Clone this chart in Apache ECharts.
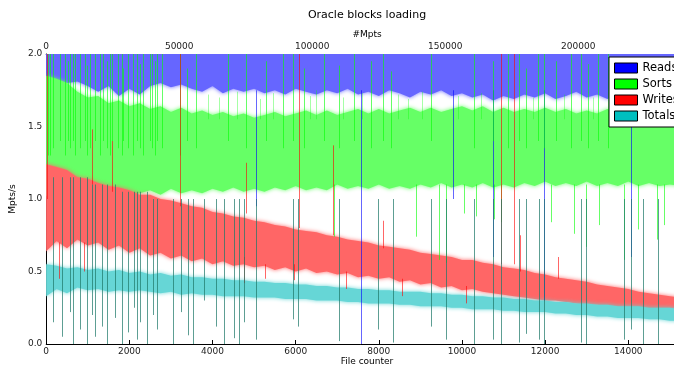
<!DOCTYPE html>
<html>
<head>
<meta charset="utf-8">
<title>Oracle blocks loading</title>
<script src="https://cdn.jsdelivr.net/npm/echarts@6.0.0/dist/echarts.min.js"></script>
<style>
  html, body { margin: 0; padding: 0; background: #fff; }
  #chart { width: 674px; height: 366px; }
</style>
</head>
<body>
<div id="chart"></div>
<script>
// file counter positions of the band envelopes
const fileX = [0, 250, 500, 750, 1000, 1250, 1500, 1750, 2000, 2250, 2500, 2750, 3000, 3250, 3500, 3750,
  4000, 4250, 4500, 4750, 5000, 5250, 5500, 5750, 6000, 6250, 6500, 6750, 7000, 7250, 7500, 7750,
  8000, 8250, 8500, 8750, 9000, 9250, 9500, 9750, 10000, 10250, 10500, 10750, 11000, 11250, 11500, 11750,
  12000, 12250, 12500, 12750, 13000, 13250, 13500, 13750, 14000, 14250, 14500, 14750, 15000, 15250];

// Reads: lower edge of the band (band runs up past 2.0)
const readsLow = [1.85, 1.82, 1.80, 1.81, 1.78, 1.74, 1.78, 1.71, 1.76, 1.72, 1.78, 1.80, 1.77, 1.79, 1.76, 1.74,
  1.78, 1.73, 1.76, 1.74, 1.76, 1.73, 1.75, 1.72, 1.76, 1.74, 1.72, 1.75, 1.73, 1.76, 1.72, 1.74,
  1.71, 1.75, 1.73, 1.70, 1.74, 1.72, 1.75, 1.71, 1.73, 1.70, 1.72, 1.68, 1.71, 1.69, 1.72, 1.70,
  1.73, 1.69, 1.71, 1.74, 1.70, 1.72, 1.69, 1.73, 1.70, 1.72, 1.69, 1.71, 1.70, 1.72];

const sortsHigh = [1.85, 1.83, 1.80, 1.74, 1.70, 1.71, 1.66, 1.68, 1.64, 1.66, 1.62, 1.64, 1.60, 1.63, 1.59, 1.61,
  1.58, 1.60, 1.57, 1.59, 1.56, 1.58, 1.60, 1.57, 1.59, 1.61, 1.58, 1.61, 1.58, 1.60, 1.62, 1.59,
  1.62, 1.59, 1.61, 1.63, 1.60, 1.63, 1.60, 1.62, 1.64, 1.61, 1.64, 1.60, 1.63, 1.60, 1.62, 1.60,
  1.63, 1.60, 1.62, 1.59, 1.61, 1.59, 1.62, 1.59, 1.61, 1.59, 1.62, 1.59, 1.60, 1.61];
const sortsLow = [1.02, 1.05, 1.01, 1.04, 1.02, 1.06, 1.03, 1.05, 1.02, 1.04, 1.06, 1.03, 1.07, 1.04, 1.06, 1.04,
  1.07, 1.05, 1.08, 1.05, 1.07, 1.05, 1.08, 1.06, 1.09, 1.06, 1.08, 1.06, 1.10, 1.07, 1.09, 1.07,
  1.10, 1.07, 1.09, 1.07, 1.10, 1.08, 1.11, 1.08, 1.10, 1.08, 1.11, 1.08, 1.10, 1.08, 1.11, 1.09,
  1.12, 1.09, 1.11, 1.09, 1.12, 1.09, 1.11, 1.09, 1.12, 1.09, 1.11, 1.09, 1.10, 1.09];

const writesHigh = [1.24, 1.22, 1.20, 1.15, 1.14, 1.11, 1.09, 1.08, 1.06, 1.03, 1.03, 1.00, 0.99, 0.97, 0.95, 0.94,
  0.91, 0.90, 0.88, 0.87, 0.85, 0.84, 0.82, 0.81, 0.79, 0.78, 0.77, 0.75, 0.74, 0.72, 0.71, 0.70,
  0.68, 0.67, 0.66, 0.65, 0.63, 0.62, 0.61, 0.60, 0.58, 0.58, 0.56, 0.55, 0.53, 0.52, 0.51, 0.49,
  0.48, 0.46, 0.45, 0.44, 0.43, 0.41, 0.40, 0.39, 0.38, 0.36, 0.35, 0.34, 0.33, 0.32];
const writesLow = [0.64, 0.71, 0.66, 0.72, 0.68, 0.70, 0.65, 0.68, 0.63, 0.66, 0.61, 0.63, 0.59, 0.61, 0.57, 0.59,
  0.55, 0.57, 0.54, 0.55, 0.53, 0.54, 0.51, 0.53, 0.50, 0.52, 0.49, 0.50, 0.48, 0.49, 0.46, 0.47,
  0.45, 0.46, 0.43, 0.44, 0.41, 0.42, 0.39, 0.40, 0.37, 0.38, 0.36, 0.35, 0.34, 0.33, 0.32, 0.31,
  0.30, 0.30, 0.29, 0.28, 0.27, 0.27, 0.26, 0.25, 0.25, 0.24, 0.23, 0.23, 0.22, 0.22];

const totalsHigh = [0.55, 0.54, 0.52, 0.53, 0.51, 0.52, 0.50, 0.51, 0.49, 0.50, 0.48, 0.49, 0.47, 0.48, 0.46, 0.46,
  0.45, 0.45, 0.44, 0.44, 0.43, 0.43, 0.42, 0.42, 0.41, 0.41, 0.40, 0.40, 0.39, 0.39, 0.38, 0.38,
  0.37, 0.37, 0.36, 0.36, 0.36, 0.35, 0.35, 0.34, 0.34, 0.33, 0.33, 0.32, 0.32, 0.31, 0.31, 0.30,
  0.30, 0.29, 0.29, 0.28, 0.28, 0.27, 0.27, 0.26, 0.26, 0.26, 0.25, 0.25, 0.25, 0.24];
const totalsLow = [0.33, 0.38, 0.35, 0.39, 0.37, 0.38, 0.36, 0.37, 0.36, 0.37, 0.36, 0.35, 0.36, 0.34, 0.35, 0.34,
  0.34, 0.33, 0.33, 0.33, 0.32, 0.32, 0.32, 0.31, 0.31, 0.31, 0.30, 0.30, 0.30, 0.29, 0.29, 0.28,
  0.28, 0.28, 0.27, 0.27, 0.26, 0.26, 0.26, 0.25, 0.25, 0.24, 0.24, 0.24, 0.23, 0.23, 0.22, 0.22,
  0.22, 0.21, 0.21, 0.20, 0.20, 0.19, 0.19, 0.18, 0.18, 0.18, 0.17, 0.17, 0.16, 0.16];

// single-file outliers: [file counter, from value, to value]
const readsSpikes = [[5037, 1.75, 0.95], [7567, 1.75, 0.0], [9785, 1.75, 1.0], [10750, 1.75, 0.6],
  [11980, 1.75, 0.3], [14075, 1.75, 0.6]];

const sortsSpikes = [
  [48, 1.3, 2.0], [96, 1.3, 2.0], [169, 1.35, 2.0], [337, 1.4, 2.0], [458, 1.3, 2.0], [530, 1.4, 1.95],
  [578, 1.35, 2.0], [651, 1.4, 2.0], [699, 1.3, 2.0], [819, 1.35, 2.0], [940, 1.4, 2.0], [988, 1.3, 1.92],
  [1060, 1.35, 2.0], [1181, 1.4, 2.0], [1301, 1.3, 2.0], [1374, 1.4, 2.0], [1470, 1.35, 1.95], [1542, 1.3, 2.0],
  [1591, 1.4, 2.0], [1735, 1.35, 2.0], [1832, 1.3, 2.0], [1856, 1.4, 1.9], [1976, 1.35, 2.0], [2097, 1.3, 2.0],
  [2193, 1.4, 2.0], [2265, 1.35, 1.93], [2338, 1.3, 2.0], [2506, 1.4, 2.0], [2555, 1.35, 2.0], [2627, 1.3, 1.95],
  [2675, 1.4, 2.0], [2796, 1.35, 2.0], [3229, 1.3, 2.0], [3398, 1.4, 1.9], [3591, 1.35, 2.0], [4362, 1.4, 2.0],
  [4796, 1.35, 2.0], [5278, 1.4, 1.95], [5688, 1.35, 2.0], [5929, 1.4, 2.0], [6194, 1.35, 1.9], [6676, 1.4, 2.0],
  [7037, 1.35, 1.92], [7399, 1.4, 2.0], [7808, 1.35, 1.95], [8098, 1.4, 2.0], [8290, 1.35, 1.88], [9254, 1.4, 2.0],
  [10291, 1.35, 2.0], [10749, 1.4, 1.95], [11110, 1.35, 2.0], [11375, 1.4, 2.0], [11544, 1.35, 1.9], [11833, 1.4, 2.0],
  [11978, 1.35, 2.0], [12267, 1.4, 1.95], [12628, 1.35, 2.0], [12869, 1.4, 2.0], [13038, 1.35, 1.93], [13279, 1.4, 2.0],
  [13520, 1.35, 2.0],
  [6920, 1.1, 0.74], [8890, 1.1, 0.74], [9450, 1.1, 0.58], [9615, 1.1, 0.56], [10050, 1.1, 0.9], [10340, 1.1, 0.88],
  [10770, 1.1, 0.86], [10940, 1.1, 0.84], [12150, 1.1, 0.84], [12700, 1.1, 0.76], [12990, 1.1, 0.67], [13300, 1.1, 0.82],
  [13900, 1.1, 0.58], [14240, 1.1, 0.79], [14680, 1.1, 0.72], [14870, 1.1, 0.82]];

// fainter sorts excursions filling the gap under the reads band
const sortsFringe = [[3900, 1.55, 1.72], [4150, 1.55, 1.70], [4600, 1.55, 1.74], [5150, 1.55, 1.69], [5450, 1.55, 1.73],
  [6350, 1.55, 1.71], [6500, 1.55, 1.75], [7150, 1.55, 1.70], [7600, 1.55, 1.73], [8450, 1.55, 1.72],
  [8700, 1.55, 1.69], [9050, 1.55, 1.74], [9900, 1.55, 1.71], [10450, 1.55, 1.73], [11700, 1.55, 1.70],
  [12450, 1.55, 1.72], [13150, 1.55, 1.70], [13700, 1.55, 1.73], [14100, 1.55, 1.71], [14550, 1.55, 1.74]];

const writesSpikes = [[24, 1.0, 2.0], [3229, 0.95, 2.0], [6073, 0.8, 2.0], [10941, 0.55, 2.0], [11254, 0.55, 2.0],
  [1110, 1.1, 1.48], [1590, 1.05, 1.4], [4796, 0.9, 1.25], [6890, 0.75, 1.37], [8100, 0.66, 0.85],
  [4750, 0.6, 0.42], [5270, 0.55, 0.45], [5950, 0.55, 0.44], [7200, 0.5, 0.38], [8560, 0.45, 0.33],
  [10100, 0.4, 0.28], [300, 0.7, 0.45], [900, 0.7, 0.5], [11400, 0.5, 0.75], [12300, 0.45, 0.6]];

// files where every rate collapsed towards zero
const dropSpikes = [
  [170, 1.15, 0.15], [385, 1.15, 0.05], [580, 1.15, 0.22], [650, 1.15, 0.0], [820, 1.15, 0.1], [990, 1.15, 0.0],
  [1110, 1.1, 0.2], [1180, 1.1, 0.05], [1350, 1.1, 0.12], [1470, 1.1, 0.0], [1660, 1.1, 0.18], [1830, 1.05, 0.0],
  [1975, 1.05, 0.08], [2100, 1.05, 0.25], [2195, 1.05, 0.03], [2265, 1.05, 0.15], [2435, 1.05, 0.0], [2580, 1.0, 0.2],
  [2675, 1.0, 0.1], [3060, 1.0, 0.0], [3230, 1.0, 0.22], [3420, 1.0, 0.06], [3540, 1.0, 0.0], [3785, 1.0, 0.3],
  [4075, 1.0, 0.12], [4265, 1.0, 0.0], [4505, 1.0, 0.04], [4630, 1.0, 0.0], [4750, 1.0, 0.15], [5035, 1.0, 0.03],
  [5930, 1.0, 0.17], [6050, 1.0, 0.12], [7040, 1.0, 0.02], [7980, 1.0, 0.1], [8340, 1.0, 0.01], [9255, 1.0, 0.12],
  [9615, 1.0, 0.03], [10290, 1.0, 0.0], [10750, 1.0, 0.03], [10940, 1.0, 0.0], [11375, 1.0, 0.01], [11545, 1.0, 0.07],
  [11860, 1.0, 0.03], [11980, 1.0, 0.0], [12870, 1.0, 0.01], [12990, 1.0, 0.0], [13905, 1.0, 0.03], [14075, 1.0, 0.1],
  [14365, 1.0, 0.0], [14725, 1.0, 0.0]];

const seriesNames = ['Reads', 'Sorts', 'Writes', 'Totals'];
const legendColors = ['#0000ff', '#00ff00', '#ff0000', '#00bfbf'];

const FONT = 'DejaVu Sans';

function band(name, legendColor, fill, low, high, topValue) {
  return {
    type: 'custom',
    name: name,
    data: [[0, 0]],
    clip: true,
    silent: true,
    itemStyle: { color: legendColor },
    renderItem: function (params, api) {
      const pts = [];
      for (let i = 0; i < fileX.length; i++) {
        pts.push(api.coord([fileX[i], high ? high[i] : topValue]));
      }
      for (let i = fileX.length - 1; i >= 0; i--) {
        pts.push(api.coord([fileX[i], low[i]]));
      }
      // slightly soft edge to stand in for the dense per-file noise
      return {
        type: 'polygon',
        shape: { points: pts },
        style: { fill: fill, shadowBlur: 4, shadowColor: fill }
      };
    }
  };
}

function spikes(name, rows, stroke) {
  return {
    type: 'custom',
    name: name,
    data: rows,
    clip: true,
    silent: true,
    encode: { x: 0, y: [1, 2] },
    renderItem: function (params, api) {
      const a = api.coord([api.value(0), api.value(1)]);
      const b = api.coord([api.value(0), api.value(2)]);
      const x = Math.round(a[0]) + 0.5;
      return {
        type: 'line',
        shape: { x1: x, y1: a[1], x2: x, y2: b[1] },
        style: { stroke: stroke, lineWidth: 1 }
      };
    }
  };
}

const chart = echarts.init(document.getElementById('chart'), null, { renderer: 'canvas' });

chart.setOption({
  animation: false,
  backgroundColor: '#fff',
  textStyle: { fontFamily: FONT },
  title: [
    { text: 'Oracle blocks loading', left: 367, top: 10, textAlign: 'center', padding: 0,
      textStyle: { fontFamily: FONT, fontSize: 11, fontWeight: 'normal', color: '#000' } },
    { text: '#Mpts', left: 367, top: 30, textAlign: 'center', padding: 0,
      textStyle: { fontFamily: FONT, fontSize: 9, fontWeight: 'normal', color: '#000' } },
    { text: 'File counter', left: 367, top: 357, textAlign: 'center', padding: 0,
      textStyle: { fontFamily: FONT, fontSize: 9, fontWeight: 'normal', color: '#000' } }
  ],
  legend: {
    data: seriesNames.map(function (n, i) {
      return { name: n, itemStyle: { color: legendColors[i] } };
    }),
    orient: 'vertical',
    left: 609,
    top: 57,
    padding: [5, 40, 5, 5],
    icon: 'rect',
    itemWidth: 23,
    itemHeight: 10,
    itemGap: 4,
    selectedMode: false,
    backgroundColor: '#fff',
    borderColor: '#000',
    borderWidth: 1,
    borderRadius: 0,
    itemStyle: { borderColor: '#000', borderWidth: 1 },
    textStyle: { fontFamily: FONT, fontSize: 11.5, color: '#000', lineHeight: 12 }
  },
  grid: { left: 46, right: 0, top: 54, bottom: 22, containLabel: false },
  xAxis: [
    {
      type: 'value', position: 'bottom', min: 0, max: 15100, interval: 2000,
      axisLine: { show: true, onZero: false, lineStyle: { color: '#000', width: 1 } },
      axisTick: { show: true, inside: true, length: 4, lineStyle: { color: '#000' } },
      axisLabel: { fontFamily: FONT, fontSize: 9, color: '#222', margin: 3, showMaxLabel: false,
        formatter: function (v) { return String(v); } },
      splitLine: { show: false }
    },
    {
      type: 'value', position: 'top', min: 0, max: 236000, interval: 50000,
      axisLine: { show: true, onZero: false, lineStyle: { color: '#000', width: 1 } },
      axisTick: { show: true, inside: true, length: 4, lineStyle: { color: '#000' } },
      axisLabel: { fontFamily: FONT, fontSize: 9, color: '#222', margin: 3, showMaxLabel: false,
        formatter: function (v) { return String(v); } },
      splitLine: { show: false }
    }
  ],
  yAxis: {
    type: 'value', min: 0, max: 2, interval: 0.5,
    name: 'Mpts/s', nameLocation: 'middle', nameGap: 24, nameRotate: 90,
    nameTextStyle: { fontFamily: FONT, fontSize: 9, color: '#000' },
    axisLine: { show: true, lineStyle: { color: '#000', width: 1 } },
    axisTick: { show: true, inside: true, length: 4, lineStyle: { color: '#000' } },
    axisLabel: { fontFamily: FONT, fontSize: 9, color: '#222', margin: 4,
      formatter: function (v) { return v.toFixed(1); } },
    splitLine: { show: false }
  },
  series: [
    band('Reads', legendColors[0], '#6666ff', readsLow, null, 2.05),
    band('Sorts', legendColors[1], '#66ff66', sortsLow, sortsHigh),
    band('Writes', legendColors[2], '#ff6666', writesLow, writesHigh),
    band('Totals', legendColors[3], '#66d6d6', totalsLow, totalsHigh),
    spikes('reads outliers', readsSpikes, 'rgba(0,0,255,0.6)'),
    spikes('sorts fringe', sortsFringe, 'rgba(0,255,0,0.35)'),
    spikes('sorts outliers', sortsSpikes, 'rgba(0,255,0,0.6)'),
    spikes('writes outliers', writesSpikes, 'rgba(255,0,0,0.6)'),
    spikes('drops', dropSpikes, 'rgba(30,120,105,0.72)')
  ]
});
</script>
</body>
</html>
